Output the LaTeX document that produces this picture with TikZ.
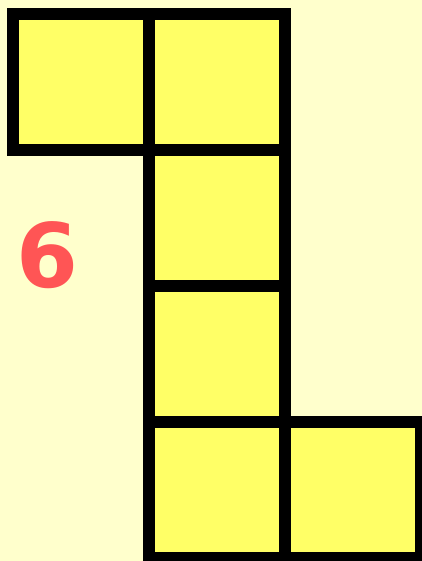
\documentclass[tikz,border=0pt]{standalone}
\usepackage{fontspec}
\newfontfamily\numfont{DejaVu Sans}
\usetikzlibrary{positioning}
\definecolor{bgyellow}{HTML}{FFFFCC}
\definecolor{cellyellow}{HTML}{FFFF66}
\definecolor{numred}{HTML}{FF5555}
\tikzset{
  cell/.style={draw=black, fill=cellyellow, line width=12pt,
    minimum size=136pt, inner sep=0pt, outer sep=0pt},
}

\begin{document}
\begin{tikzpicture}[x=1pt, y=-1pt, node distance=0pt]
\fill[bgyellow] (0,0) rectangle (422,561);
\useasboundingbox (0,0) rectangle (422,561);
\node[cell] (topleft) at (81,82) {};
\node[cell, right=of topleft] (top) {};
\node[cell, below=of top] (midA) {};
\node[cell, below=of midA] (midB) {};
\node[cell, below=of midB] (bottom) {};
\node[cell, right=of bottom] (bottomright) {};
\node[text=numred, font=\numfont\bfseries\fontsize{89}{89}\selectfont]
  (count) at (47,255) {6};
\end{tikzpicture}
\end{document}
